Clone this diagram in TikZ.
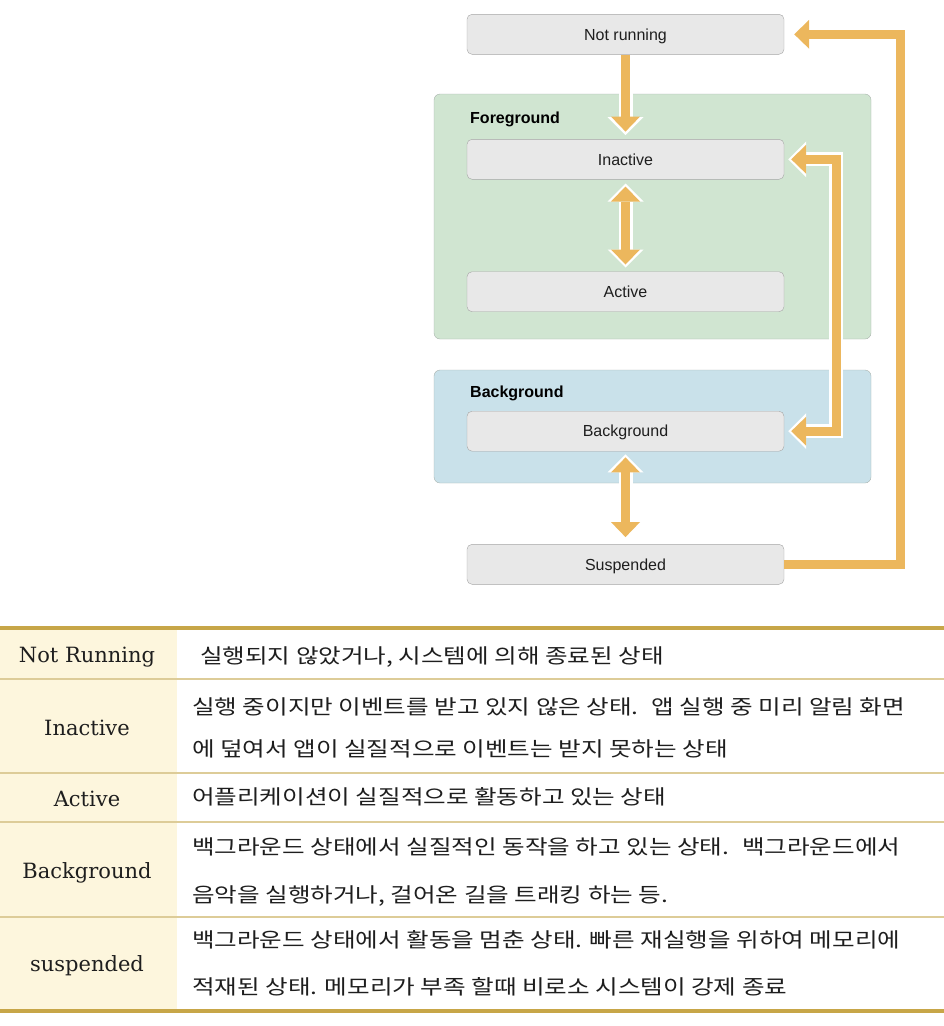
\documentclass[tikz,border=0pt]{standalone}
\usepackage{fontspec}
\setmainfont{DejaVu Serif}
\newfontfamily\diagfont{Liberation Sans}
\newfontfamily\hanfont[FakeStretch=1.21]{Noto Sans CJK KR}
\usetikzlibrary{arrows.meta,positioning}
\definecolor{boxgray}{RGB}{232,232,232}
\definecolor{boxedge}{RGB}{165,165,165}
\definecolor{fggreen}{RGB}{208,229,209}
\definecolor{bgblue}{RGB}{201,225,234}
\definecolor{groupedge}{RGB}{168,178,172}
\definecolor{flow}{RGB}{236,183,93}
\definecolor{cream}{RGB}{253,246,221}
\definecolor{goldline}{RGB}{199,166,72}
\definecolor{paleline}{RGB}{221,204,152}
\definecolor{ink}{RGB}{30,30,30}
\tikzset{
  statebox/.style={draw=boxedge,fill=boxgray,rounded corners=5pt,minimum width=317pt,
    minimum height=40pt,text height=11.5pt,text depth=0pt,text=ink,
    font=\diagfont\fontsize{16}{18}\selectfont},
  groupbox/.style={draw=groupedge,rounded corners=6pt,minimum width=437pt},
  grouplabel/.style={anchor=base west,inner sep=0pt,font=\diagfont\bfseries\fontsize{16}{18}\selectfont},
  halo/.style={draw=white,line width=14pt,line join=miter,>={Triangle[length=18pt,width=36pt,line width=0pt]}},
  flowline/.style={draw=flow,line width=9pt,line join=miter,>={Triangle[length=15pt,width=29pt,line width=0pt]}},
  rowhead/.style={anchor=base,inner sep=0pt,text=ink,font=\fontsize{21}{24}\selectfont},
  rowtext/.style={anchor=base west,inner sep=0pt,text=ink,font=\hanfont\fontsize{20.3}{24}\selectfont}
}
\begin{document}
\begin{tikzpicture}[x=1pt,y=-1pt]
  \useasboundingbox (0,0) rectangle (944,1026);

  \node[groupbox,fill=fggreen,minimum height=245pt] (foreground) at (652.5,216.5) {};
  \node[groupbox,fill=bgblue,minimum height=113pt] (background) at (652.5,426.5) {};
  \node[grouplabel] (fglabel) at (470,123) {Foreground};
  \node[grouplabel] (bglabel) at (470,397) {Background};

  \node[statebox] (notrunning) at (625.5,34.3) {Not running};
  \node[statebox] (inactive) at (625.5,159.3) {Inactive};
  \node[statebox] (active) at (625.5,291.7) {Active};
  \node[statebox] (bgstate) at (625.5,431.2) {Background};
  \node[statebox] (suspended) at (625.5,564.3) {Suspended};
  \coordinate (bend) at (836,300);
  \coordinate (loop) at (900,300);

  \draw[halo,->,shorten >=4pt] (notrunning) -- (inactive);
  \draw[halo,<->,shorten <=4pt,shorten >=4pt] (inactive) -- (active);
  \draw[halo,<->,shorten <=4pt,shorten >=4pt] (inactive.east) -| (bend) |- (bgstate.east);
  \draw[halo,<->,shorten <=3pt,shorten >=4pt] (bgstate) -- (suspended);

  \draw[flowline,->,shorten >=7.5pt] (notrunning) -- (inactive);
  \draw[flowline,<->,shorten <=7pt,shorten >=7pt] (inactive) -- (active);
  \draw[flowline,<->,shorten <=7pt,shorten >=7pt] (inactive.east) -| (bend) |- (bgstate.east);
  \draw[flowline,<->,shorten <=6pt,shorten >=7pt] (bgstate) -- (suspended);
  \draw[flowline,->,shorten >=10pt] (suspended.east) -| (loop) |- (notrunning.east);

  \fill[cream] (0,628) rectangle (177,1011);
  \foreach \y in {679,773,822,917}
    \draw[paleline,line width=1.8pt] (0,\y) -- (944,\y);
  \draw[goldline,line width=3.5pt] (0,628) -- (944,628) (0,1011) -- (944,1011);

  \node[rowhead] (hnotrunning) at (87,662) {Not Running};
  \node[rowhead] (hinactive) at (87,735) {Inactive};
  \node[rowhead] (hactive) at (87,806.5) {Active};
  \node[rowhead] (hbackground) at (87,878) {Background};
  \node[rowhead] (hsuspended) at (87,971.5) {suspended};

  \node[rowtext] (dnotrunning) at (200,663.5) {실행되지 않았거나, 시스템에 의해 종료된 상태};
  \node[rowtext] (dinactive) at (192,714.5) {실행 중이지만 이벤트를 받고 있지 않은 상태.~ 앱 실행 중 미리 알림 화면};
  \node[rowtext] (dinactive2) at (192,756) {에 덮여서 앱이 실질적으로 이벤트는 받지 못하는 상태};
  \node[rowtext] (dactive) at (192,804.5) {어플리케이션이 실질적으로 활동하고 있는 상태};
  \node[rowtext] (dbackground) at (192,854.5) {백그라운드 상태에서 실질적인 동작을 하고 있는 상태.~ 백그라운드에서};
  \node[rowtext] (dbackground2) at (192,902.5) {음악을 실행하거나, 걸어온 길을 트래킹 하는 등.};
  \node[rowtext] (dsuspended) at (192,947.5) {백그라운드 상태에서 활동을 멈춘 상태. 빠른 재실행을 위하여 메모리에};
  \node[rowtext] (dsuspended2) at (192,994.5) {적재된 상태. 메모리가 부족 할때 비로소 시스템이 강제 종료};
\end{tikzpicture}
\end{document}
